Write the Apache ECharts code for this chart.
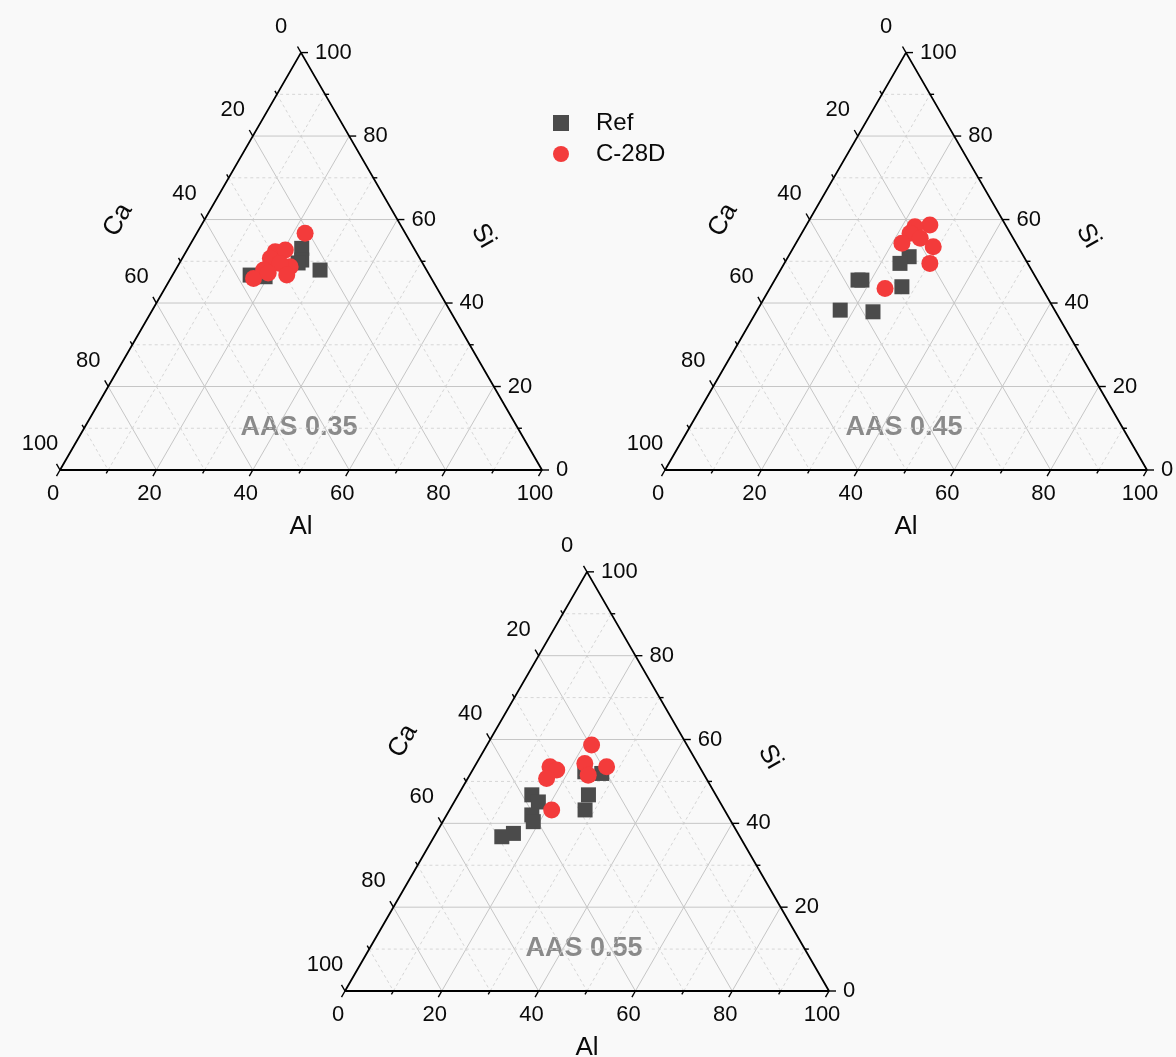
<!DOCTYPE html>
<html>
<head>
<meta charset="utf-8">
<script src="https://cdn.jsdelivr.net/npm/echarts@6/dist/echarts.min.js"></script>
<style>
  html, body { margin: 0; padding: 0; background: #f9f9f9; }
  #chart { width: 1176px; height: 1057px; }
</style>
</head>
<body>
<div id="chart"></div>
<script>
// Sample compositions, each point as [Al, Ca, Si] in %
const panelLabels = ['AAS 0.35', 'AAS 0.45', 'AAS 0.55'];

const ref035 = [[23.6, 23.3, 53.1], [25.0, 24.7, 50.3], [30.0, 22.1, 47.9], [16.1, 37.2, 46.7], [19.4, 34.3, 46.3], [24.6, 25.8, 49.6]];
const c28d035 = [[22.5, 20.8, 56.7], [18.5, 29.2, 52.3], [20.4, 26.9, 52.7], [18.3, 31.0, 50.7], [23.4, 27.9, 48.7], [20.9, 29.6, 49.5], [23.7, 29.6, 46.7], [18.3, 33.8, 47.9], [17.2, 36.9, 45.9], [19.6, 33.2, 47.2]];

const ref045 = [[25.1, 23.8, 51.1], [24.0, 26.5, 49.5], [27.2, 28.9, 43.9], [17.3, 37.2, 45.5], [18.1, 36.4, 45.5], [17.2, 44.5, 38.3], [24.2, 37.9, 37.9]];
const c28d045 = [[25.6, 15.7, 58.7], [22.7, 19.0, 58.3], [22.5, 20.8, 56.7], [25.2, 19.3, 55.5], [22.0, 23.7, 54.3], [28.9, 17.6, 53.5], [30.2, 20.3, 49.5], [23.9, 32.6, 43.5]];

const ref055 = [[23.4, 24.3, 52.3], [27.1, 21.0, 51.9], [26.9, 26.3, 46.8], [28.0, 28.8, 43.2], [15.2, 38.0, 46.8], [17.4, 37.5, 45.1], [17.6, 40.4, 42.0], [18.7, 40.9, 40.4], [14.0, 49.2, 36.8], [16.0, 46.4, 37.6]];
const c28d055 = [[21.6, 19.7, 58.7], [22.4, 23.3, 54.3], [27.3, 19.2, 53.5], [24.5, 24.0, 51.5], [15.6, 30.9, 53.5], [17.4, 29.9, 52.7], [16.3, 33.0, 50.7], [21.1, 35.7, 43.2]];

const refSets = [ref035, ref045, ref055];
const c28dSets = [c28d035, c28d045, c28d055];

// Ternary axis ticks (every 10, labelled every 20)
const axisTicks = [0, 10, 20, 30, 40, 50, 60, 70, 80, 90, 100];
const majorStep = 20;
const axisNames = ['Al', 'Ca', 'Si'];
// Triangle corners: pure Ca (bottom-left), pure Al (bottom-right), pure Si (top)
const corners = [[0, 100, 0], [100, 0, 0], [0, 0, 100], [0, 100, 0]];

// Pixel frame of each triangle
const panels = [
  { left: 60, bottom: 470, side: 482 },
  { left: 665, bottom: 470, side: 482 },
  { left: 345, bottom: 991, side: 484 }
];

const H = Math.sqrt(3) / 2;
// [Al, Ca, Si] -> cartesian in a triangle of side 100
function toXY(p) {
  const t = p[0] + p[1] + p[2];
  const al = p[0] / t * 100, si = p[2] / t * 100;
  return [al + si / 2, si * H];
}

const FONT = '"Liberation Sans", Arial, sans-serif';

function renderAxisItem(params, api) {
  const fam = api.value(0), v = api.value(1);
  const major = v % majorStep === 0;
  let edge, far, dir, lab, align;
  if (fam === 0) {        // Al along the bottom edge
    edge = api.coord(toXY([v, 100 - v, 0]));
    far = api.coord(toXY([v, 0, 100 - v]));
    dir = [-0.5, H];
    lab = [edge[0] - 7, edge[1] + 24];
    align = 'center';
  } else if (fam === 1) { // Ca along the left edge
    edge = api.coord(toXY([0, v, 100 - v]));
    far = api.coord(toXY([100 - v, v, 0]));
    dir = [-0.5, -H];
    lab = [edge[0] - 20, edge[1] - 26];
    align = 'center';
  } else {                // Si along the right edge
    edge = api.coord(toXY([100 - v, 0, v]));
    far = api.coord(toXY([0, 100 - v, v]));
    dir = [1, 0];
    lab = [edge[0] + 14, edge[1]];
    align = 'left';
  }
  const children = [];
  if (v > 0 && v < 100) {
    children.push({
      type: 'line', silent: true,
      shape: { x1: edge[0], y1: edge[1], x2: far[0], y2: far[1] },
      style: major
        ? { stroke: '#c6c6c6', lineWidth: 1 }
        : { stroke: '#d6d6d6', lineWidth: 1, lineDash: [3, 3] }
    });
  }
  const len = major ? 7 : 4;
  children.push({
    type: 'line', silent: true,
    shape: { x1: edge[0], y1: edge[1], x2: edge[0] + dir[0] * len, y2: edge[1] + dir[1] * len },
    style: { stroke: '#000', lineWidth: 1.4 }
  });
  if (major) {
    children.push({
      type: 'text', silent: true, x: lab[0], y: lab[1],
      style: { text: String(v), fill: '#0a0a0a', font: '22px ' + FONT, align: align, verticalAlign: 'middle' }
    });
  }
  return { type: 'group', children: children };
}

const axisData = [];
[0, 1, 2].forEach(function (fam) {
  axisTicks.forEach(function (v) { axisData.push([fam, v]); });
});

const grids = [], xAxes = [], yAxes = [], series = [], graphics = [];
panels.forEach(function (p, i) {
  const h = p.side * H;
  grids.push({ left: p.left, top: p.bottom - h, width: p.side, height: h });
  xAxes.push({ gridIndex: i, type: 'value', min: 0, max: 100, show: false });
  yAxes.push({ gridIndex: i, type: 'value', min: 0, max: 100 * H, show: false });

  series.push({
    type: 'custom', xAxisIndex: i, yAxisIndex: i, clip: false, silent: true, z: 1,
    renderItem: renderAxisItem, data: axisData
  });
  series.push({
    type: 'line', xAxisIndex: i, yAxisIndex: i, symbol: 'none', silent: true, z: 2,
    lineStyle: { color: '#000', width: 1.8 },
    data: corners.map(toXY)
  });
  series.push({
    name: 'Ref', type: 'scatter', xAxisIndex: i, yAxisIndex: i, z: 3,
    symbol: 'rect', symbolSize: 15,
    itemStyle: { color: '#4b4b4b', opacity: 1 },
    data: refSets[i].map(toXY)
  });
  series.push({
    name: 'C-28D', type: 'scatter', xAxisIndex: i, yAxisIndex: i, z: 4,
    symbol: 'circle', symbolSize: 17,
    itemStyle: { color: '#f33b3b', opacity: 1 },
    data: c28dSets[i].map(toXY)
  });

  const cx = p.left + p.side / 2;
  graphics.push({
    type: 'text', x: cx, y: p.bottom + 57,
    style: { text: axisNames[0], font: '26px ' + FONT, fill: '#0a0a0a', align: 'center', verticalAlign: 'middle' }
  });
  graphics.push({
    type: 'text', x: p.left + 58, y: p.bottom - 250, rotation: Math.PI / 3,
    style: { text: axisNames[1], font: '26px ' + FONT, fill: '#0a0a0a', align: 'center', verticalAlign: 'middle' }
  });
  graphics.push({
    type: 'text', x: p.left + p.side - 59, y: p.bottom - 234, rotation: -Math.PI / 3,
    style: { text: axisNames[2], font: '26px ' + FONT, fill: '#0a0a0a', align: 'center', verticalAlign: 'middle' }
  });
  graphics.push({
    type: 'text', x: p.left + 239, y: p.bottom - 42,
    style: { text: panelLabels[i], font: 'bold 27px ' + FONT, fill: '#8a8a8a', align: 'center', verticalAlign: 'middle' }
  });
});

const chart = echarts.init(document.getElementById('chart'), null, { renderer: 'canvas' });
chart.setOption({
  backgroundColor: '#f9f9f9',
  animation: false,
  grid: grids,
  xAxis: xAxes,
  yAxis: yAxes,
  legend: {
    orient: 'vertical', left: 548, top: 106,
    itemWidth: 16, itemHeight: 16, itemGap: 7,
    data: [{ name: 'Ref', icon: 'rect' }, { name: 'C-28D', icon: 'circle' }],
    textStyle: { fontSize: 24, fontFamily: FONT, color: '#0a0a0a', lineHeight: 24, padding: [0, 0, 0, 22] }
  },
  series: series,
  graphic: graphics
});
</script>
</body>
</html>
